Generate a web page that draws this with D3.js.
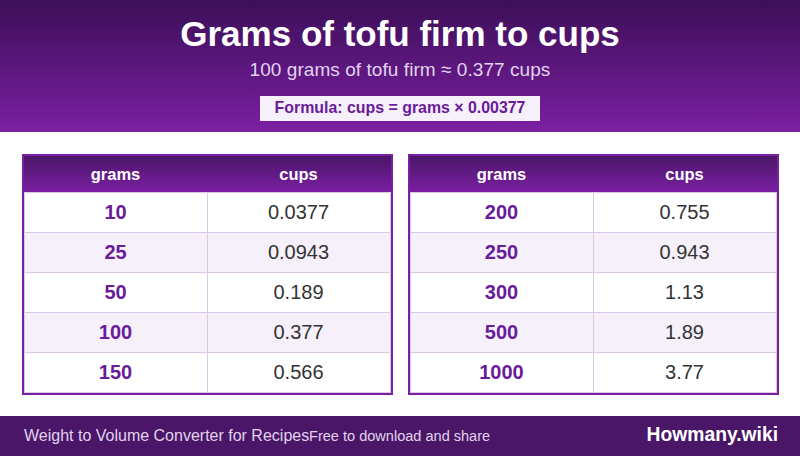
<!DOCTYPE html>
<html>
<head>
<meta charset="utf-8">
<script src="https://cdn.jsdelivr.net/npm/d3@7"></script>
<style>
    html, body { margin: 0; padding: 0; background: #fff; }
    svg { display: block; font-family: "Liberation Sans", Arial, sans-serif; text-rendering: optimizeSpeed; }
</style>
</head>
<body>
<svg id="chart" width="800" height="456"></svg>
<script>
const titleText = "Grams of tofu firm to cups";
const subtitleText = "100 grams of tofu firm ≈ 0.377 cups";
const formulaText = "Formula: cups = grams × 0.00377";
const footerLeft = "Weight to Volume Converter for Recipes";
const footerMiddle = "Free to download and share";
const footerBrand = "Howmany.wiki";

const columns = ["grams", "cups"];
const gramsLeft = ["10", "25", "50", "100", "150"];
const cupsLeft = ["0.0377", "0.0943", "0.189", "0.377", "0.566"];
const gramsRight = ["200", "250", "300", "500", "1000"];
const cupsRight = ["0.755", "0.943", "1.13", "1.89", "3.77"];

const svg = d3.select("#chart");
const defs = svg.append("defs");

function addGradient(id, from, to) {
    const g = defs.append("linearGradient")
        .attr("id", id)
        .attr("x1", 0).attr("y1", 0)
        .attr("x2", 0).attr("y2", 1);
    g.append("stop").attr("offset", "0%").attr("stop-color", from);
    g.append("stop").attr("offset", "100%").attr("stop-color", to);
}
addGradient("headGrad", "#3c0f58", "#7b1fa2");
addGradient("theadGrad", "#4a1668", "#7b1fa2");

// top banner
svg.append("rect")
    .attr("width", 800).attr("height", 132)
    .attr("fill", "url(#headGrad)");

svg.append("text")
    .attr("x", 400).attr("y", 46)
    .attr("text-anchor", "middle")
    .attr("font-size", 35)
    .attr("font-weight", "bold")
    .attr("fill", "#fff")
    .text(titleText);

svg.append("text")
    .attr("x", 400).attr("y", 76)
    .attr("text-anchor", "middle")
    .attr("font-size", 19)
    .attr("letter-spacing", 0.06)
    .attr("fill", "#e1d3ee")
    .text(subtitleText);

svg.append("rect")
    .attr("x", 260).attr("y", 96)
    .attr("width", 280).attr("height", 25)
    .attr("fill", "#f5f0fa");

svg.append("text")
    .attr("x", 400).attr("y", 113)
    .attr("text-anchor", "middle")
    .attr("font-size", 15.9)
    .attr("font-weight", "bold")
    .attr("fill", "#6a1b9a")
    .text(formulaText);

function drawTable(left, grams, cups) {
    const g = svg.append("g").attr("transform", `translate(${left},154)`);

    const x = d3.scaleOrdinal().domain(columns).range([0, 183]);
    const colWidth = 183;
    const y = d3.scaleBand().domain(d3.range(grams.length)).range([36, 236]);

    g.append("rect")
        .attr("width", 371).attr("height", 241)
        .attr("fill", "#7b1fa2");

    const inner = g.append("g").attr("transform", "translate(2,2)");

    inner.append("rect")
        .attr("width", 367).attr("height", 36)
        .attr("fill", "url(#theadGrad)");

    inner.selectAll("text.head")
        .data(columns)
        .enter().append("text")
        .attr("class", "head")
        .attr("x", d => x(d) + colWidth / 2)
        .attr("y", 24)
        .attr("text-anchor", "middle")
        .attr("font-size", 16.5)
        .attr("font-weight", "bold")
        .attr("fill", "#fff")
        .text(d => d);

    const rows = inner.selectAll("g.row")
        .data(grams.map((d, i) => ({ i, grams: d, cups: cups[i] })))
        .enter().append("g")
        .attr("class", "row")
        .attr("transform", d => `translate(0,${y(d.i)})`);

    // grid colour behind, cell fills on top leave 1px lines
    rows.append("rect")
        .attr("width", 367)
        .attr("height", y.bandwidth() + 1)
        .attr("fill", "#dcc8e8");

    rows.append("rect")
        .attr("x", 1).attr("y", 1)
        .attr("width", 182)
        .attr("height", y.bandwidth() - 1)
        .attr("fill", d => d.i % 2 ? "#f5f0fa" : "#fff");

    rows.append("rect")
        .attr("x", 184).attr("y", 1)
        .attr("width", 182)
        .attr("height", y.bandwidth() - 1)
        .attr("fill", d => d.i % 2 ? "#f5f0fa" : "#fff");

    rows.append("text")
        .attr("x", x("grams") + colWidth / 2)
        .attr("y", 27)
        .attr("text-anchor", "middle")
        .attr("font-size", 20)
        .attr("font-weight", "bold")
        .attr("fill", "#6a1b9a")
        .text(d => d.grams);

    rows.append("text")
        .attr("x", x("cups") + colWidth / 2)
        .attr("y", 27)
        .attr("text-anchor", "middle")
        .attr("font-size", 20)
        .attr("fill", "#333")
        .text(d => d.cups);
}

drawTable(22, gramsLeft, cupsLeft);
drawTable(408, gramsRight, cupsRight);

// footer
svg.append("rect")
    .attr("y", 416)
    .attr("width", 800).attr("height", 40)
    .attr("fill", "#4a1668");

svg.append("text")
    .attr("x", 24).attr("y", 441)
    .attr("font-size", 16)
    .attr("fill", "#e1d3ee")
    .text(footerLeft);

svg.append("text")
    .attr("x", 309).attr("y", 441)
    .attr("font-size", 14.55)
    .attr("fill", "#e1d3ee")
    .text(footerMiddle);

svg.append("text")
    .attr("x", 778).attr("y", 441)
    .attr("text-anchor", "end")
    .attr("font-size", 19.3)
    .attr("font-weight", "bold")
    .attr("fill", "#fff")
    .text(footerBrand);
</script>
</body>
</html>
